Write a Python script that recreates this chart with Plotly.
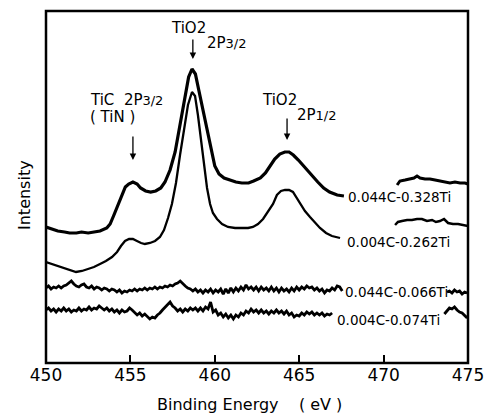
import plotly.graph_objects as go

# ---------------- data (binding energy in eV, intensity in arbitrary units) ----------------
e_328 = [450.0, 450.4, 450.7, 451.1, 451.4, 451.8, 452.1, 452.5, 452.8, 453.2, 453.6, 453.8,
         454.0, 454.2, 454.4, 454.6, 454.7, 454.9, 455.15, 455.4, 455.6, 455.9, 456.2, 456.5,
         456.8, 457.05, 457.35, 457.65, 457.95, 458.25, 458.45, 458.65, 458.85, 459.05, 459.3,
         459.55, 459.8, 460.0, 460.25, 460.55, 460.9, 461.25, 461.6, 462.0, 462.3, 462.7, 463.0,
         463.3, 463.55, 463.85, 464.15, 464.4, 464.65, 464.95, 465.25, 465.5, 465.8, 466.1,
         466.45, 466.8, 467.25, 467.65]
i_328 = [136, 134, 132, 131, 130, 130, 131, 130, 131, 132, 135, 139,
         147, 155, 164, 171, 176, 179, 181, 179, 175, 172, 171, 172,
         175, 181, 193, 211, 238, 265, 286, 294, 289, 273, 253,
         230, 210, 197, 189, 185, 183, 181, 180, 180, 182, 185, 190,
         197, 204, 209, 211, 211, 208, 203, 197, 192, 187, 181,
         175, 171, 168, 167]
e_328_tail = [470.8, 470.97, 471.27, 471.56, 471.8, 471.98, 472.16, 472.45, 472.75, 473.05,
              473.34, 473.64, 473.93, 474.23, 474.53, 474.82, 475.0]
i_328_tail = [178, 182, 183, 184, 185, 187, 185, 184, 184, 183, 182, 181, 180, 181, 180, 180, 179]

e_262 = [450.0, 450.36, 450.71, 451.07, 451.42, 451.78, 452.13, 452.49, 452.84, 453.2, 453.55,
         453.91, 454.21, 454.44, 454.68, 454.92, 455.15, 455.39, 455.63, 455.86, 456.16, 456.46,
         456.75, 456.99, 457.23, 457.46, 457.7, 457.94, 458.18, 458.41, 458.65, 458.83, 459.0,
         459.18, 459.36, 459.54, 459.72, 459.89, 460.13, 460.43, 460.78, 461.2, 461.61, 461.97,
         462.26, 462.56, 462.86, 463.15, 463.45, 463.68, 463.92, 464.16, 464.4, 464.63, 464.87,
         465.11, 465.34, 465.64, 465.94, 466.23, 466.59, 466.94, 467.42]
i_262 = [101, 99, 97, 95, 93, 91, 92, 94, 96, 99, 102,
         106, 111, 117, 122, 124, 124, 122, 120, 119, 120, 122,
         126, 133, 145, 159, 180, 208, 236, 258, 271, 267, 248,
         223, 198, 175, 159, 150, 144, 139, 136, 135, 135, 135,
         136, 139, 144, 151, 159, 168, 172, 173, 173, 171, 165,
         158, 152, 146, 140, 135, 130, 127, 125]
e_262_tail = [470.68, 470.85, 471.09, 471.39, 471.68, 471.98, 472.27, 472.57, 472.87, 473.1,
              473.34, 473.58, 473.82, 474.11, 474.41, 474.7, 475.0]
i_262_tail = [138, 141, 142, 143, 143, 144, 144, 142, 143, 141, 142, 144, 140, 139, 139, 138, 137]

# evenly sampled noisy spectra: start energy, step, intensities
e0_066, de_066 = 450.0, 0.15
i_066 = [75, 77, 74, 76, 75, 77, 75, 77, 78, 80, 82, 79, 77, 76, 78, 79, 76, 75, 77, 74,
         76, 75, 73, 75, 74, 72, 74, 73, 71, 73, 70, 72, 71, 73, 72, 74, 72, 74, 73, 75,
         73, 75, 74, 76, 74, 76, 75, 77, 76, 78, 77, 79, 80, 82, 79, 77, 75, 74, 72, 74,
         71, 73, 70, 73, 71, 74, 70, 73, 71, 74, 69, 74, 70, 75, 71, 75, 72, 76, 73, 78,
         74, 76, 73, 76, 72, 76, 73, 75, 72, 76, 72, 75, 71, 75, 72, 74, 71, 75, 72, 76,
         73, 76, 74, 77, 75, 76, 73, 75, 72, 74, 70, 73, 72, 75, 73, 77, 76, 72]
e0_066_tail, de_066_tail = 473.75, 0.15
i_066_tail = [71, 72, 70, 73, 71, 72, 69, 71, 70]

e0_074, de_074 = 450.0, 0.15
i_074 = [53, 55, 52, 54, 51, 54, 52, 55, 52, 54, 51, 53, 52, 55, 52, 54, 53, 56, 53, 55,
         54, 57, 55, 53, 55, 52, 54, 51, 53, 50, 53, 51, 52, 55, 53, 50, 48, 50, 47, 49,
         46, 44, 46, 45, 48, 50, 53, 56, 58, 61, 57, 55, 52, 54, 51, 54, 52, 55, 53, 55,
         52, 55, 52, 56, 54, 61, 51, 53, 48, 50, 46, 49, 45, 48, 44, 48, 46, 50, 48, 52,
         50, 54, 51, 53, 50, 53, 50, 52, 49, 52, 50, 53, 50, 52, 49, 52, 48, 50, 46, 48,
         47, 50, 48, 51, 49, 51, 48, 50, 48, 50, 47, 49, 48, 50]
e0_074_tail, de_074_tail = 473.6, 0.15
i_074_tail = [49, 52, 55, 54, 56, 53, 51, 50, 47, 45]

x_ticks = [450, 455, 460, 465, 470, 475]
sample_labels = ["0.044C-0.328Ti", "0.004C-0.262Ti", "0.044C-0.066Ti", "0.004C-0.074Ti"]
label_e = [467.8, 467.7, 467.6, 467.1]
label_i = [166, 121, 71, 43]

FONT = "DejaVu Sans"
fig = go.Figure()

def add(x=None, y=None, w=2.0, x0=None, dx=None):
    kw = dict(y=y, mode="lines", line=dict(color="black", width=w), showlegend=False,
              hoverinfo="skip", cliponaxis=False)
    if x is not None:
        kw["x"] = x
    else:
        kw["x0"] = x0
        kw["dx"] = dx
    fig.add_trace(go.Scatter(**kw))

add(e_328, i_328, 3.2)
add(e_328_tail, i_328_tail, 3.0)
add(e_262, i_262, 2.3)
add(e_262_tail, i_262_tail, 2.5)
add(y=i_066, w=2.8, x0=e0_066, dx=de_066)
add(y=i_066_tail, w=2.8, x0=e0_066_tail, dx=de_066_tail)
add(y=i_074, w=2.8, x0=e0_074, dx=de_074)
add(y=i_074_tail, w=2.8, x0=e0_074_tail, dx=de_074_tail)

ann = []
for lab, xe, yi in zip(sample_labels, label_e, label_i):
    ann.append(dict(x=xe, y=yi, text=lab, showarrow=False, xanchor="left", yanchor="middle",
                    font=dict(family=FONT, size=13.5, color="black")))

small = "<span style='font-size:13px'>%s</span>"
peak_text = [
    (458.44, 335, "TiO2", "center"),
    (459.42, 320, "2P" + small % "3/2", "left"),
    (452.49, 263, "TiC  2P" + small % "3/2", "left"),
    (452.49, 246, "( TiN )", "left"),
    (462.68, 263, "TiO2", "left"),
    (464.75, 248, "2P" + small % "1/2", "left"),
]
for xe, yi, t, xa in peak_text:
    ann.append(dict(x=xe, y=yi, text=t, showarrow=False, xanchor=xa, yanchor="middle",
                    font=dict(family=FONT, size=15, color="black")))

arrows = [(458.7, 304, 325), (455.15, 203, 228), (464.28, 223, 246)]
for xe, head, tail in arrows:
    ann.append(dict(x=xe, y=head, ax=xe, ay=tail, axref="x", ayref="y", text="",
                    showarrow=True, arrowhead=2, arrowsize=1.0, arrowwidth=1.3,
                    arrowcolor="black"))

ann.append(dict(xref="paper", yref="paper", x=0, y=0.5, xshift=-22, yshift=-8,
                xanchor="center", yanchor="middle",
                text="Intensity", textangle=-90, showarrow=False,
                font=dict(family=FONT, size=16, color="black")))
ann.append(dict(xref="paper", yref="paper", x=0.483, y=0, yshift=-41,
                xanchor="center", yanchor="middle",
                text="Binding Energy&nbsp;&nbsp;&nbsp;&nbsp;( eV )", showarrow=False,
                font=dict(family=FONT, size=16, color="black")))

fig.update_layout(
    width=484, height=416,
    margin=dict(l=46, r=16, t=11, b=53, autoexpand=False),
    paper_bgcolor="white", plot_bgcolor="white",
    annotations=ann,
    shapes=[dict(type="rect", xref="paper", yref="paper", x0=0, y0=0, x1=1, y1=1,
                 line=dict(color="black", width=2.5), layer="above")],
    xaxis=dict(range=[450, 475], tickvals=x_ticks, ticktext=[str(v) for v in x_ticks],
               ticks="inside", ticklen=8, tickwidth=1.5, tickcolor="black",
               ticklabeloverflow="allow",
               showline=False, showgrid=False, zeroline=False,
               tickfont=dict(family=FONT, size=17, color="black")),
    yaxis=dict(range=[0, 352], showticklabels=False, ticks="",
               showline=False, showgrid=False, zeroline=False),
)

fig.write_html("out.html", config={"displayModeBar": False},
               post_script="document.body.style.margin='0px';")
